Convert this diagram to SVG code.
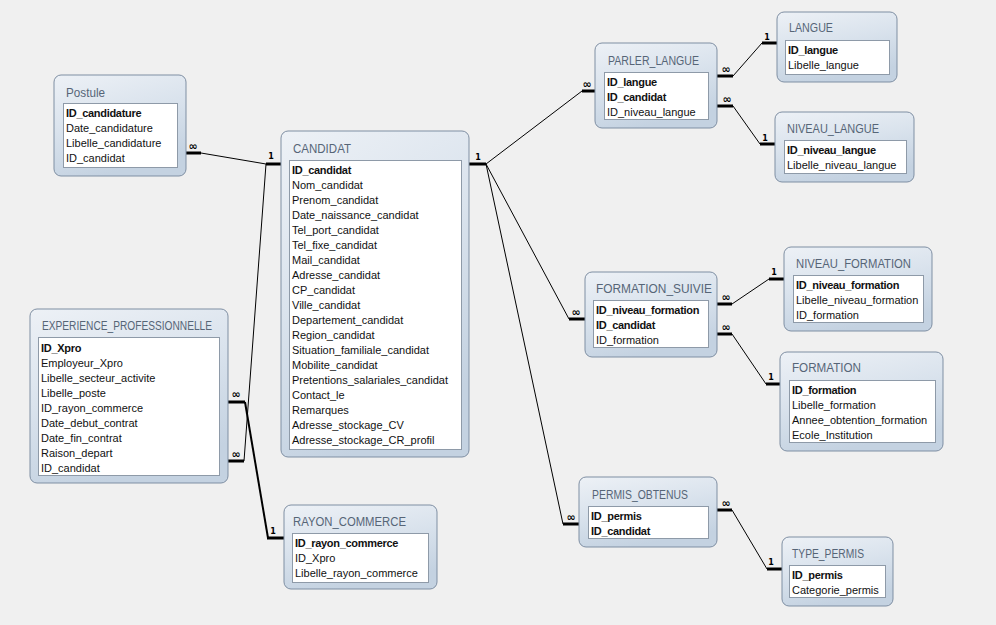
<svg xmlns="http://www.w3.org/2000/svg" width="996" height="625" viewBox="0 0 996 625">
<defs>
<linearGradient id="g" x1="0" y1="0" x2="0.35" y2="1">
<stop offset="0" stop-color="#edf1f6"/>
<stop offset="0.5" stop-color="#dae3ed"/>
<stop offset="1" stop-color="#c4d2e1"/>
</linearGradient>
<style>
.tbl{fill:url(#g);stroke:#7f8fa3;stroke-width:1}
.inner{fill:#ffffff;stroke:#8e9aa8;stroke-width:1}
.title{font-family:"Liberation Sans",Arial,sans-serif;font-size:12.5px;fill:#566577}
.f{font-family:"Liberation Sans",Arial,sans-serif;font-size:11px;fill:#111}
.pk{font-weight:bold;letter-spacing:-0.3px}
.thin{stroke:#000;stroke-width:1;fill:none}
.thick{stroke:#000;stroke-width:3;fill:none}
.med{stroke:#000;stroke-width:2;fill:none}
.one{font-family:"DejaVu Sans",sans-serif;font-size:8px;font-weight:bold;fill:#000}
.inf{font-family:"DejaVu Sans",sans-serif;font-size:11px;font-weight:bold;fill:#000}
</style>
</defs>
<rect width="996" height="625" fill="#f0f0f0"/>

<g id="connectors">
<line class="thick" x1="186" y1="153" x2="201" y2="153"/>
<line class="thin" x1="201" y1="153" x2="266" y2="164"/>
<line class="thick" x1="266" y1="164" x2="281" y2="164"/>
<text class="inf" x="193" y="150" text-anchor="middle">∞</text>
<text class="one" x="271" y="159" text-anchor="middle">1</text>
<line class="thick" x1="228" y1="461" x2="244" y2="461"/>
<line class="thin" x1="244" y1="461" x2="266" y2="164"/>
<text class="inf" x="236" y="458" text-anchor="middle">∞</text>
<line class="thick" x1="228" y1="402" x2="245" y2="402"/>
<line class="med" x1="245" y1="402" x2="268" y2="538"/>
<line class="thick" x1="267" y1="538" x2="284" y2="538"/>
<text class="inf" x="236" y="398" text-anchor="middle">∞</text>
<text class="one" x="273" y="534" text-anchor="middle">1</text>
<line class="thick" x1="469" y1="164" x2="486" y2="164"/>
<text class="one" x="478" y="160" text-anchor="middle">1</text>
<line class="thin" x1="486" y1="164" x2="582" y2="91"/>
<line class="thick" x1="582" y1="91" x2="595" y2="91"/>
<text class="inf" x="587" y="88" text-anchor="middle">∞</text>
<line class="thin" x1="486" y1="164" x2="569" y2="319"/>
<line class="thick" x1="569" y1="319" x2="585" y2="319"/>
<text class="inf" x="576" y="316" text-anchor="middle">∞</text>
<line class="thin" x1="486" y1="164" x2="563" y2="524"/>
<line class="thick" x1="563" y1="524" x2="579" y2="524"/>
<text class="inf" x="571" y="521" text-anchor="middle">∞</text>
<line class="thick" x1="717" y1="76" x2="733" y2="76"/>
<line class="thin" x1="733" y1="76" x2="762" y2="43"/>
<line class="thick" x1="762" y1="43" x2="777" y2="43"/>
<text class="inf" x="726" y="73" text-anchor="middle">∞</text>
<text class="one" x="767" y="40" text-anchor="middle">1</text>
<line class="thick" x1="717" y1="106" x2="733" y2="106"/>
<line class="thin" x1="733" y1="106" x2="760" y2="144"/>
<line class="thick" x1="760" y1="144" x2="775" y2="144"/>
<text class="inf" x="727" y="103" text-anchor="middle">∞</text>
<text class="one" x="765" y="141" text-anchor="middle">1</text>
<line class="thick" x1="717" y1="304" x2="732" y2="304"/>
<line class="thin" x1="732" y1="304" x2="769" y2="279"/>
<line class="thick" x1="769" y1="279" x2="784" y2="279"/>
<text class="inf" x="726" y="301" text-anchor="middle">∞</text>
<text class="one" x="774" y="275" text-anchor="middle">1</text>
<line class="thick" x1="717" y1="334" x2="732" y2="334"/>
<line class="thin" x1="732" y1="334" x2="766" y2="384"/>
<line class="thick" x1="766" y1="384" x2="780" y2="384"/>
<text class="inf" x="726" y="331" text-anchor="middle">∞</text>
<text class="one" x="771" y="380" text-anchor="middle">1</text>
<line class="thick" x1="717" y1="510" x2="732" y2="510"/>
<line class="thin" x1="732" y1="510" x2="767" y2="569"/>
<line class="thick" x1="767" y1="569" x2="782" y2="569"/>
<text class="inf" x="726" y="507" text-anchor="middle">∞</text>
<text class="one" x="771" y="565" text-anchor="middle">1</text>
</g>

<g id="Postule">
<rect class="tbl" x="54" y="75" width="132" height="101" rx="7"/>
<text class="title" x="66" y="97" textLength="39" lengthAdjust="spacingAndGlyphs">Postule</text>
<rect class="inner" x="63.5" y="103.5" width="114" height="64"/>
<text class="f pk" x="66" y="117">ID_candidature</text>
<text class="f" x="66" y="132">Date_candidature</text>
<text class="f" x="66" y="147">Libelle_candidature</text>
<text class="f" x="66" y="162">ID_candidat</text>
</g>

<g id="CANDIDAT">
<rect class="tbl" x="281" y="131" width="188" height="326" rx="7"/>
<text class="title" x="293" y="153" textLength="58" lengthAdjust="spacingAndGlyphs">CANDIDAT</text>
<rect class="inner" x="289.5" y="160.5" width="172" height="289"/>
<text class="f pk" x="292" y="174">ID_candidat</text>
<text class="f" x="292" y="189">Nom_candidat</text>
<text class="f" x="292" y="204">Prenom_candidat</text>
<text class="f" x="292" y="219">Date_naissance_candidat</text>
<text class="f" x="292" y="234">Tel_port_candidat</text>
<text class="f" x="292" y="249">Tel_fixe_candidat</text>
<text class="f" x="292" y="264">Mail_candidat</text>
<text class="f" x="292" y="279">Adresse_candidat</text>
<text class="f" x="292" y="294">CP_candidat</text>
<text class="f" x="292" y="309">Ville_candidat</text>
<text class="f" x="292" y="324">Departement_candidat</text>
<text class="f" x="292" y="339">Region_candidat</text>
<text class="f" x="292" y="354">Situation_familiale_candidat</text>
<text class="f" x="292" y="369">Mobilite_candidat</text>
<text class="f" x="292" y="384">Pretentions_salariales_candidat</text>
<text class="f" x="292" y="399">Contact_le</text>
<text class="f" x="292" y="414">Remarques</text>
<text class="f" x="292" y="429">Adresse_stockage_CV</text>
<text class="f" x="292" y="444">Adresse_stockage_CR_profil</text>
</g>

<g id="EXPERIENCE_PROFESSIONNELLE">
<rect class="tbl" x="30" y="309" width="198" height="174" rx="7"/>
<text class="title" x="42" y="330" textLength="170" lengthAdjust="spacingAndGlyphs">EXPERIENCE_PROFESSIONNELLE</text>
<rect class="inner" x="38.5" y="337.5" width="181" height="138"/>
<text class="f pk" x="41" y="352">ID_Xpro</text>
<text class="f" x="41" y="367">Employeur_Xpro</text>
<text class="f" x="41" y="382">Libelle_secteur_activite</text>
<text class="f" x="41" y="397">Libelle_poste</text>
<text class="f" x="41" y="412">ID_rayon_commerce</text>
<text class="f" x="41" y="427">Date_debut_contrat</text>
<text class="f" x="41" y="442">Date_fin_contrat</text>
<text class="f" x="41" y="457">Raison_depart</text>
<text class="f" x="41" y="472">ID_candidat</text>
</g>

<g id="RAYON_COMMERCE">
<rect class="tbl" x="284" y="505" width="153" height="84" rx="7"/>
<text class="title" x="293" y="526" textLength="113" lengthAdjust="spacingAndGlyphs">RAYON_COMMERCE</text>
<rect class="inner" x="292.5" y="533.5" width="136" height="49"/>
<text class="f pk" x="295" y="547">ID_rayon_commerce</text>
<text class="f" x="295" y="562">ID_Xpro</text>
<text class="f" x="295" y="577">Libelle_rayon_commerce</text>
</g>

<g id="PARLER_LANGUE">
<rect class="tbl" x="595" y="43" width="122" height="85" rx="7"/>
<text class="title" x="608" y="65" textLength="91" lengthAdjust="spacingAndGlyphs">PARLER_LANGUE</text>
<rect class="inner" x="604.5" y="72.5" width="104" height="47"/>
<text class="f pk" x="607" y="86">ID_langue</text>
<text class="f pk" x="607" y="101">ID_candidat</text>
<text class="f" x="607" y="116">ID_niveau_langue</text>
</g>

<g id="LANGUE">
<rect class="tbl" x="777" y="12" width="120" height="70" rx="7"/>
<text class="title" x="789" y="32" textLength="44" lengthAdjust="spacingAndGlyphs">LANGUE</text>
<rect class="inner" x="785.5" y="40.5" width="104" height="34"/>
<text class="f pk" x="788" y="54">ID_langue</text>
<text class="f" x="788" y="69">Libelle_langue</text>
</g>

<g id="NIVEAU_LANGUE">
<rect class="tbl" x="775" y="112" width="139" height="70" rx="7"/>
<text class="title" x="787" y="133" textLength="92" lengthAdjust="spacingAndGlyphs">NIVEAU_LANGUE</text>
<rect class="inner" x="784.5" y="140.5" width="122" height="33"/>
<text class="f pk" x="787" y="154">ID_niveau_langue</text>
<text class="f" x="787" y="169">Libelle_niveau_langue</text>
</g>

<g id="FORMATION_SUIVIE">
<rect class="tbl" x="585" y="272" width="132" height="85" rx="7"/>
<text class="title" x="596" y="293" textLength="116" lengthAdjust="spacingAndGlyphs">FORMATION_SUIVIE</text>
<rect class="inner" x="593.5" y="300.5" width="115" height="47"/>
<text class="f pk" x="596" y="314">ID_niveau_formation</text>
<text class="f pk" x="596" y="329">ID_candidat</text>
<text class="f" x="596" y="344">ID_formation</text>
</g>

<g id="NIVEAU_FORMATION">
<rect class="tbl" x="784" y="247" width="148" height="84" rx="7"/>
<text class="title" x="796" y="268" textLength="115" lengthAdjust="spacingAndGlyphs">NIVEAU_FORMATION</text>
<rect class="inner" x="793.5" y="275.5" width="130" height="47"/>
<text class="f pk" x="796" y="289">ID_niveau_formation</text>
<text class="f" x="796" y="304">Libelle_niveau_formation</text>
<text class="f" x="796" y="319">ID_formation</text>
</g>

<g id="FORMATION">
<rect class="tbl" x="780" y="352" width="163" height="99" rx="7"/>
<text class="title" x="792" y="372" textLength="69" lengthAdjust="spacingAndGlyphs">FORMATION</text>
<rect class="inner" x="789.5" y="380.5" width="146" height="62"/>
<text class="f pk" x="792" y="394">ID_formation</text>
<text class="f" x="792" y="409">Libelle_formation</text>
<text class="f" x="792" y="424">Annee_obtention_formation</text>
<text class="f" x="792" y="439">Ecole_Institution</text>
</g>

<g id="PERMIS_OBTENUS">
<rect class="tbl" x="579" y="477" width="138" height="70" rx="7"/>
<text class="title" x="592" y="499" textLength="96" lengthAdjust="spacingAndGlyphs">PERMIS_OBTENUS</text>
<rect class="inner" x="588.5" y="506.5" width="120" height="32"/>
<text class="f pk" x="591" y="520">ID_permis</text>
<text class="f pk" x="591" y="535">ID_candidat</text>
</g>

<g id="TYPE_PERMIS">
<rect class="tbl" x="782" y="537" width="111" height="69" rx="7"/>
<text class="title" x="792" y="558" textLength="72" lengthAdjust="spacingAndGlyphs">TYPE_PERMIS</text>
<rect class="inner" x="789.5" y="565.5" width="96" height="32"/>
<text class="f pk" x="792" y="579">ID_permis</text>
<text class="f" x="792" y="594">Categorie_permis</text>
</g>
</svg>
